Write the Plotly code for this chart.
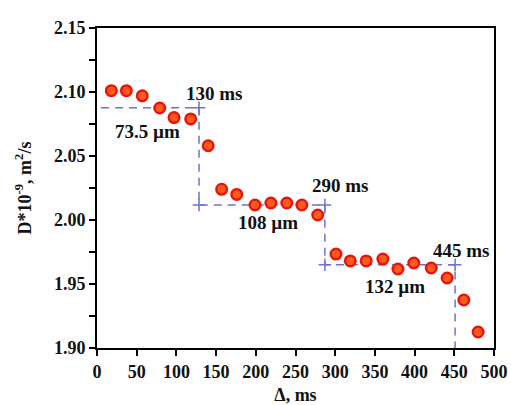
import plotly.graph_objects as go

# Data
delta_ms = [18, 37, 57, 79, 97, 118, 140, 157, 176, 199, 219, 239, 258, 278,
            301, 319, 339, 360, 379, 399, 421, 441, 462, 480]
D_values = [2.101, 2.101, 2.097, 2.0875, 2.080, 2.079, 2.058, 2.024, 2.020,
            2.0117, 2.0133, 2.0133, 2.0117, 2.0039, 1.9734, 1.968, 1.968,
            1.9695, 1.9617, 1.9664, 1.9625, 1.9547, 1.9375, 1.9125]

# step guide (dashed) corners
step_x = [5, 128.5, 128.5, 287, 287, 451, 451]
step_y = [2.0877, 2.0877, 2.0117, 2.0117, 1.965, 1.965, 1.90]
corner_x = [128.5, 128.5, 287, 287, 451]
corner_y = [2.0877, 2.0117, 2.0117, 1.965, 1.965]

# annotations
ann_text = ["130 ms", "73.5 µm", "290 ms", "108 µm", "445 ms", "132 µm"]
ann_x = [147, 64, 306, 215, 458, 375]
ann_y = [2.099, 2.0695, 2.0273, 1.998, 1.9758, 1.9477]

x_ticks = [0, 50, 100, 150, 200, 250, 300, 350, 400, 450, 500]
y_ticks = [1.90, 1.95, 2.00, 2.05, 2.10, 2.15]

FONT = "Liberation Serif"
dash_color = "#6b74cf"

fig = go.Figure()
fig.add_trace(go.Scatter(x=step_x, y=step_y, mode="lines",
                         line=dict(color=dash_color, width=1.5, dash="8px,6px"),
                         hoverinfo="skip", showlegend=False))
fig.add_trace(go.Scatter(x=corner_x, y=corner_y, mode="markers",
                         marker=dict(symbol="cross-thin", size=9,
                                     line=dict(color=dash_color, width=1.5)),
                         hoverinfo="skip", showlegend=False))
fig.add_trace(go.Scatter(x=delta_ms, y=D_values, mode="markers",
                         marker=dict(size=10.5, color="#ff5a1e",
                                     line=dict(color="#e8150c", width=2.5)),
                         showlegend=False))

for t, x, y in zip(ann_text, ann_x, ann_y):
    fig.add_annotation(x=x, y=y, text="<b>" + t + "</b>", showarrow=False,
                       font=dict(family=FONT, size=19, color="#111111"))

axis_common = dict(showline=True, linecolor="black", linewidth=2, mirror=True,
                   ticks="outside", tickcolor="black", tickwidth=2,
                   showgrid=False, zeroline=False, automargin=False,
                   tickfont=dict(family=FONT, size=18, color="#111111", weight="bold"))

fig.update_xaxes(range=[0, 500], tickvals=x_ticks, ticklen=6,
                 title=dict(text="<b>Δ, ms</b>", standoff=10,
                            font=dict(family=FONT, size=18, color="#111111")),
                 **axis_common)
fig.update_yaxes(range=[1.90, 2.15], tickvals=y_ticks,
                 ticktext=["%.2f" % v for v in y_ticks], ticklen=6,
                 minor=dict(ticks="outside", dtick=0.025, tick0=1.9, ticklen=6,
                            tickcolor="black", tickwidth=2),
                 title=dict(text="<b>D*10<sup>-9</sup>, m<sup>2</sup>/s</b>", standoff=18,
                            font=dict(family=FONT, size=18, color="#111111")),
                 **axis_common)

fig.update_layout(width=511, height=405,
                  margin=dict(l=97, r=17, t=28, b=57),
                  paper_bgcolor="white", plot_bgcolor="white")

fig.write_html("out.html", config={"displayModeBar": False},
               post_script="document.body.style.margin='0px';document.body.style.overflow='hidden';")
